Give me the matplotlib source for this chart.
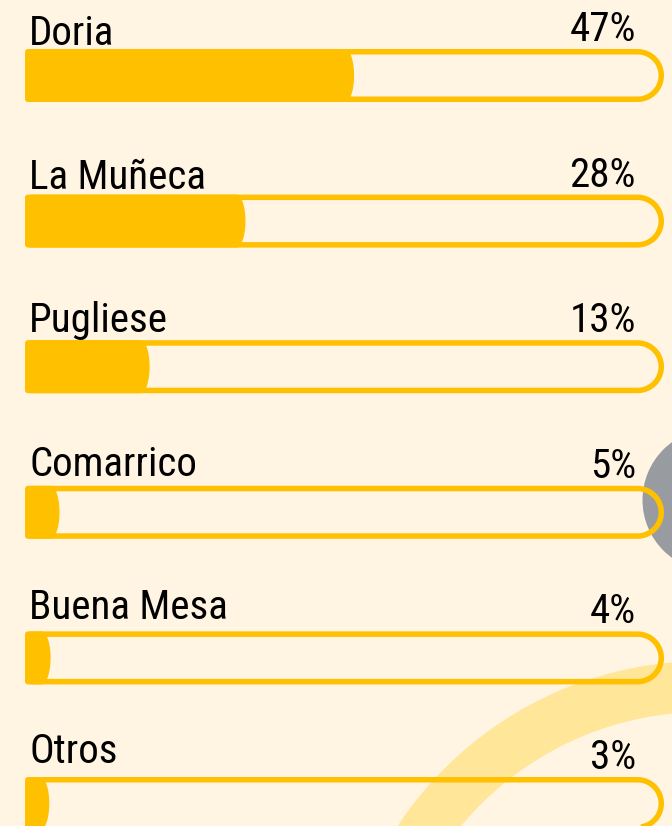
#!/usr/bin/env python3

import numpy as np
import matplotlib as mpl
mpl.use('Agg')
import matplotlib.pyplot as plt
from matplotlib.path import Path
from matplotlib.patches import PathPatch, Circle, Wedge
from matplotlib import font_manager

# data
brands = ['Doria', 'La Muñeca', 'Pugliese', 'Comarrico', 'Buena Mesa', 'Otros']
share_labels = ['47%', '28%', '13%', '5%', '4%', '3%']
# filled part of each track, as a fraction of the track (not proportional to the %)
fill_frac = [0.515, 0.345, 0.195, 0.054, 0.040, 0.038]

BG = '#FFF5E2'
GOLD = '#FFC000'
PALE = '#FFE699'
GREY = '#989BA0'

W, H = 672, 826


def pick_font():
    names = set(f.name for f in font_manager.fontManager.ttflist)
    for name in ['Liberation Sans Narrow', 'Arial Narrow', 'Roboto Condensed',
                 'PT Sans Narrow', 'Archivo Narrow']:
        if name in names:
            return name, 'normal'
    return 'DejaVu Sans', 'condensed'


def arc_pts(cx, cy, r, a0, a1, n=40, ry=None):
    ry = r if ry is None else ry
    t = np.radians(np.linspace(a0, a1, n))
    return np.column_stack([cx + r * np.cos(t), cy + ry * np.sin(t)])


def closed(pts):
    v = np.vstack(pts)
    v = np.vstack([v, v[:1]])
    codes = [Path.MOVETO] + [Path.LINETO] * (len(v) - 2) + [Path.CLOSEPOLY]
    return Path(v, codes)


def track_path(x0, x1, top, bot, rc=4):
    # square-ish left end, round right end (y axis points down)
    R = (bot - top) / 2.0
    return closed([arc_pts(x0 + rc, top + rc, rc, 180, 270, 8),
                   arc_pts(x1 - R, top + R, R, 270, 450, 60),
                   arc_pts(x0 + rc, bot - rc, rc, 90, 180, 8)])


def fill_path(x0, x1, top, bot, bulge=9, rc=3):
    h = (bot - top) / 2.0
    xe = max(x1 - bulge, x0 + rc + 1)
    return closed([arc_pts(x0 + rc, top + rc, rc, 180, 270, 8),
                   arc_pts(xe, top + h, bulge, 270, 450, 40, ry=h),
                   arc_pts(x0 + rc, bot - rc, rc, 90, 180, 8)])


def main():
    font, stretch = pick_font()
    fig = plt.figure(figsize=(W / 100, H / 100), dpi=100)
    fig.patch.set_facecolor(BG)
    ax = fig.add_axes([0, 0, 1, 1])
    ax.set_xlim(0, W)
    ax.set_ylim(H, 0)
    ax.set_facecolor(BG)
    ax.axis('off')

    # decorations behind the bars
    ax.add_patch(Wedge((704, 1028), 367, 0, 360, width=51, facecolor=PALE,
                       edgecolor='none', zorder=1))
    ax.add_patch(Circle((714, 500), 71.5, facecolor=GREY, edgecolor='none', zorder=1))

    x0, x1 = 25, 664
    bar_h = 53
    lw = 5.5
    tops = np.linspace(49, 777, len(brands))
    name_base = np.linspace(45, 763, len(brands))

    for i, name in enumerate(brands):
        top = tops[i]
        bot = top + bar_h
        ax.add_patch(PathPatch(track_path(x0 + lw / 2, x1 - lw / 2, top + lw / 2, bot - lw / 2),
                               facecolor='none', edgecolor=GOLD, lw=lw * 0.72, zorder=2))
        xf = x0 + fill_frac[i] * (x1 - x0)
        ax.add_patch(PathPatch(fill_path(x0, xf, top, bot),
                               facecolor=GOLD, edgecolor='none', zorder=3))
        ax.text(29, name_base[i], name, fontsize=29.5, family=font, fontstretch=stretch,
                color='black', ha='left', va='baseline', zorder=4)
        ax.text(636, top - 8, share_labels[i], fontsize=29.5, family=font, fontstretch=stretch,
                color='black', ha='right', va='baseline', zorder=4)

    fig.savefig('out.png', dpi=100, facecolor=BG)


if __name__ == '__main__':
    main()
